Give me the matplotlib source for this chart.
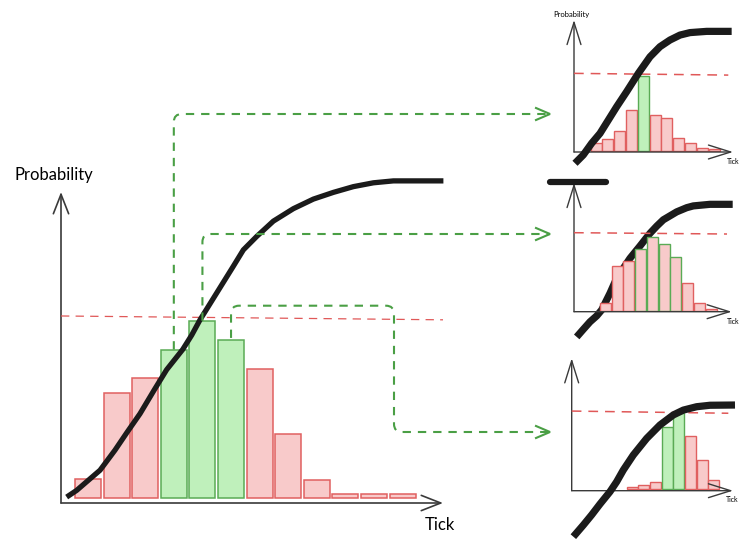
import matplotlib
matplotlib.use("Agg")
import matplotlib.pyplot as plt
import numpy as np
from matplotlib.path import Path
from matplotlib.patches import PathPatch
from matplotlib.lines import Line2D
from matplotlib.transforms import Affine2D

plt.rcParams["font.family"] = ["Lato", "DejaVu Sans"]
plt.rcParams["lines.scale_dashes"] = False

# ---------------- data ----------------
# main distribution over ticks
main_probs = [0.020, 0.110, 0.125, 0.155, 0.185, 0.165, 0.135, 0.067, 0.019, 0.004, 0.004, 0.004]
main_selected = [3, 4, 5]
main_threshold = [0.190, 0.186]
main_cdf_x = [-0.746, -0.396, -0.047, 0.420, 0.944, 1.352, 1.818, 2.319, 2.751, 3.310,
              3.625, 3.916, 4.499, 5.082, 5.431, 5.897, 6.480, 7.179, 7.879, 8.578,
              9.277, 9.977, 10.676, 12.424]
main_cdf_y = [0.001, 0.008, 0.017, 0.029, 0.050, 0.068, 0.088, 0.113, 0.134, 0.155,
              0.170, 0.186, 0.214, 0.242, 0.259, 0.273, 0.289, 0.302, 0.312, 0.319,
              0.325, 0.329, 0.331, 0.331]

# panel 1: sharply peaked
in1_probs = [0.030, 0.046, 0.080, 0.165, 0.302, 0.144, 0.134, 0.050, 0.032, 0.010, 0.007]
in1_selected = [4]
in1_threshold = [0.313, 0.306]
in1_cdf_x = [-1.795, -1.089, -0.383, 0.323, 1.030, 1.736, 2.583, 3.572, 4.561, 5.408,
             6.255, 7.103, 7.950, 9.363, 11.481]
in1_cdf_y = [-0.051, -0.017, 0.030, 0.070, 0.124, 0.178, 0.239, 0.313, 0.380, 0.421,
             0.448, 0.468, 0.478, 0.483, 0.483]

# panel 2: same spread as the main distribution
in2_probs = [0.019, 0.113, 0.126, 0.155, 0.186, 0.168, 0.136, 0.069, 0.019, 0.004]
in2_selected = [3, 4, 5, 6]
in2_threshold = [0.1965, 0.1932]
in2_cdf_x = [-2.450, -1.888, -1.317, -0.746, -0.321, 0.386, 0.957, 2.090, 2.942, 3.794,
             4.364, 4.927, 5.497, 6.068, 6.920, 7.482, 8.904, 9.475, 10.838]
in2_cdf_y = [-0.066, -0.047, -0.028, -0.013, 0.002, 0.044, 0.082, 0.132, 0.163, 0.195,
             0.213, 0.229, 0.239, 0.249, 0.2595, 0.264, 0.268, 0.268, 0.268]
in2_stub_x = [-4.72, 0.05]
in2_stub_y = [0.3235, 0.3235]

# panel 3: shifted to the right
in3_probs = [0.007, 0.015, 0.029, 0.257, 0.315, 0.219, 0.120, 0.037]
in3_selected = [3, 4]
in3_threshold = [0.322, 0.313]
in3_cdf_x = [-5.010, -4.156, -3.445, -2.733, -1.879, -1.310, -0.741, 0.113, 1.252, 2.391,
             3.529, 4.383, 5.522, 6.661, 8.795]
in3_cdf_y = [-0.197, -0.149, -0.107, -0.062, -0.011, 0.030, 0.0785, 0.1405, 0.209, 0.2645,
             0.306, 0.326, 0.340, 0.346, 0.347]

# ---------------- style ----------------
RED_FILL = "#f8caca"
RED_EDGE = "#e06060"
GREEN_FILL = "#bff0bb"
GREEN_EDGE = "#5aab55"
LINK = "#4a9f45"
THRESH = "#e05858"
INK = "#1b1b1b"
AXIS = "#3a3a3a"

W, H = 742, 539
fig = plt.figure(figsize=(W / 100, H / 100), dpi=100)
fig.patch.set_facecolor("white")
# pixel space, origin at top-left
pix = Affine2D().scale(1 / W, -1 / H).translate(0, 1) + fig.transFigure


def add_panel(left, right, top, bottom, xlim, ylim):
    ax = fig.add_axes([left / W, 1 - bottom / H, (right - left) / W, (bottom - top) / H])
    ax.set_xlim(*xlim)
    ax.set_ylim(*ylim)
    ax.axis("off")
    return ax


def draw_axes_arrows(ax, lw, head_len, head_w, color=AXIS):
    style = f"->,head_length={head_len},head_width={head_w}"
    kw = dict(xycoords="axes fraction", textcoords="axes fraction",
              arrowprops=dict(arrowstyle=style, color=color, lw=lw,
                              shrinkA=0, shrinkB=0))
    ax.annotate("", xy=(0, 1), xytext=(0, 0), **kw)
    ax.annotate("", xy=(1, 0), xytext=(0, 0), **kw)


def draw_panel(ax, probs, selected, green_fill, width, threshold, cdf_x, cdf_y,
               curve_lw, thr_lw, thr_dash, edge_lw, thr_trim=0.4, curve_on_top=True):
    xs = np.arange(len(probs))
    fills = [(GREEN_FILL if green_fill else RED_FILL) if i in selected else RED_FILL
             for i in xs]
    edges = [GREEN_EDGE if i in selected else RED_EDGE for i in xs]
    ax.bar(xs, probs, width=width, color=fills, edgecolor=edges, linewidth=edge_lw,
           zorder=2)
    x0, x1 = ax.get_xlim()
    ax.plot([x0, x1 - thr_trim], threshold, color=THRESH, lw=thr_lw,
            dashes=thr_dash, zorder=3, clip_on=False)
    ax.plot(cdf_x, cdf_y, color=INK, lw=curve_lw, solid_capstyle="butt",
            solid_joinstyle="round", zorder=4 if curve_on_top else 1, clip_on=False)


# main chart
ax_main = add_panel(61, 443, 192, 503, (-0.944, 12.41), (-0.0052, 0.3194))
draw_axes_arrows(ax_main, 1.2, 1.4, 0.55)
draw_panel(ax_main, main_probs, main_selected, True, 0.91, main_threshold,
           main_cdf_x, main_cdf_y, 3.8, 0.9, (6, 4.5), 1.1, thr_trim=0.0)
fig.text(14 / W, 1 - 175 / H, "Probability", fontsize=12, va="center", ha="left")
fig.text(425 / W, 1 - 525 / H, "Tick", fontsize=12, va="center", ha="left")

# right-hand panels
ax1 = add_panel(574, 733, 20, 152, (-1.88, 11.595), (-0.0053, 0.529))
draw_axes_arrows(ax1, 1.0, 1.6, 0.5)
draw_panel(ax1, in1_probs, in1_selected, True, 0.93, in1_threshold,
           in1_cdf_x, in1_cdf_y, 5.2, 1.1, (7, 5), 1.0)
fig.text(553 / W, 1 - 15 / H, "Probability", fontsize=5.5, va="center", ha="left")
fig.text(727 / W, 1 - 162 / H, "Tick", fontsize=5, va="center", ha="left")

ax2 = add_panel(574, 731.7, 183, 311.7, (-2.68, 10.753), (-0.0025, 0.3217))
draw_axes_arrows(ax2, 1.0, 1.6, 0.5)
draw_panel(ax2, in2_probs, in2_selected, False, 0.94, in2_threshold,
           in2_cdf_x, in2_cdf_y, 5.2, 1.1, (7, 5), 1.0, curve_on_top=False)
ax2.plot(in2_stub_x, in2_stub_y, color=INK, lw=4.5, solid_capstyle="round",
         clip_on=False, zorder=4)
fig.text(727 / W, 1 - 321 / H, "Tick", fontsize=5, va="center", ha="left")

ax3 = add_panel(571.7, 733, 358.3, 490.7, (-5.15, 8.625), (-0.007, 0.540))
draw_axes_arrows(ax3, 1.0, 1.6, 0.5)
draw_panel(ax3, in3_probs, in3_selected, True, 0.94, in3_threshold,
           in3_cdf_x, in3_cdf_y, 5.2, 1.1, (7, 5), 1.0)
fig.text(726 / W, 1 - 500 / H, "Tick", fontsize=5, va="center", ha="left")


# dashed links from the selected main bars to the panels
def rounded_path(points, r):
    verts = [points[0]]
    codes = [Path.MOVETO]
    for i in range(1, len(points) - 1):
        p0, p1, p2 = (np.asarray(points[j], float) for j in (i - 1, i, i + 1))
        d1 = (p1 - p0) / np.linalg.norm(p1 - p0)
        d2 = (p2 - p1) / np.linalg.norm(p2 - p1)
        verts += [p1 - d1 * r, p1, p1 + d2 * r]
        codes += [Path.LINETO, Path.CURVE3, Path.CURVE3]
    verts.append(points[-1])
    codes.append(Path.LINETO)
    return Path(verts, codes)


def bar_top_px(ax, i, value):
    disp = ax.transData.transform((i, value))
    return tuple(pix.inverted().transform(disp))


def draw_link(route):
    path = rounded_path(route, 8)
    fig.add_artist(PathPatch(path, transform=pix, fill=False, edgecolor=LINK,
                             lw=1.5, linestyle=(0, (6, 5)), zorder=1))
    tx, ty = route[-1]
    fig.add_artist(Line2D([tx - 14, tx, tx - 14], [ty - 6, ty, ty + 6],
                          transform=pix, color=LINK, lw=1.5,
                          solid_joinstyle="miter"))


s1 = bar_top_px(ax_main, 3, main_probs[3])
s2 = bar_top_px(ax_main, 4, main_probs[4])
s3 = bar_top_px(ax_main, 5, main_probs[5])
draw_link([s1, (s1[0], 114), (550, 114)])
draw_link([s2, (s2[0], 234), (550, 234)])
draw_link([(s3[0], s3[1] - 2), (s3[0], 305.7), (394, 305.7), (394, 432), (550, 432)])

fig.savefig("out.png", dpi=100, facecolor="white")
